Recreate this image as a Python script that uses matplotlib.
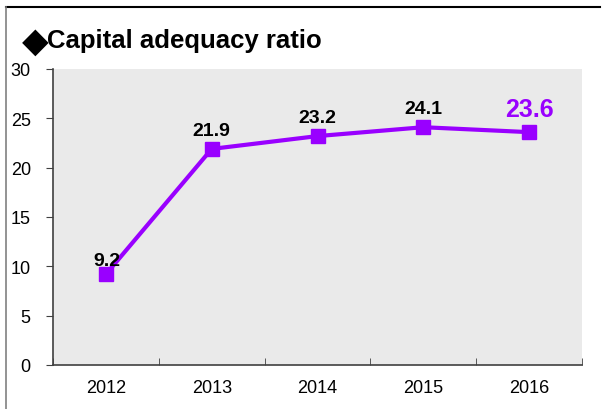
import matplotlib
matplotlib.use("Agg")
import matplotlib.pyplot as plt
from matplotlib.lines import Line2D
import numpy as np

years = ["2012", "2013", "2014", "2015", "2016"]
ratio = [9.2, 21.9, 23.2, 24.1, 23.6]
yticks = [0, 5, 10, 15, 20, 25, 30]

W, H = 606, 410
fig = plt.figure(figsize=(W / 100, H / 100), dpi=100)
fig.patch.set_facecolor("white")

ax = fig.add_axes([53 / W, 1 - 366 / H, (582 - 53) / W, (366 - 70) / H])
ax.set_facecolor("#EAEAEA")

purple = "#9900FF"
x = np.arange(len(years))
ax.plot(x, ratio, color=purple, lw=3, marker="s", markersize=10, zorder=3)

offsets = [(1, 4), (0, 7), (0, 7), (0, 7), (0, 8)]
for i, v in enumerate(ratio):
    last = i == len(ratio) - 1
    ax.annotate(f"{v:.1f}", (x[i], v), xytext=offsets[i],
                textcoords="offset points", ha="center", va="bottom",
                fontsize=18 if last else 14, fontweight="bold",
                color=purple if last else "black",
                family="Liberation Sans", zorder=4)

ax.set_xlim(-0.5, len(years) - 0.5)
ax.set_ylim(0, 30)
ax.set_yticks(yticks)
ax.set_yticklabels([str(t) for t in yticks], fontsize=13, family="Liberation Sans")
ax.set_xticks(x)
ax.set_xticklabels(years, fontsize=13, family="Liberation Sans")
ax.set_xticks(np.arange(-0.5, len(years)), minor=True)
ax.tick_params(axis="x", which="major", length=0, pad=10)
ax.tick_params(axis="x", which="minor", direction="in", length=5, color="#404040")
ax.tick_params(axis="y", direction="out", length=5, color="#404040", pad=11)
for s in ["top", "right"]:
    ax.spines[s].set_visible(False)
for s in ["left", "bottom"]:
    ax.spines[s].set_color("#404040")
    ax.spines[s].set_linewidth(1.2)

fig.text(35.5 / W, 1 - 42 / H, "◆", fontsize=25, family="DejaVu Sans",
         va="center", ha="center")
fig.text(47 / W, 1 - 41 / H, "Capital adequacy ratio", fontsize=18.5, fontweight="bold",
         family="Liberation Sans", va="center", ha="left")

fig.add_artist(Line2D([6 / W, 600 / W], [1 - 8 / H, 1 - 8 / H], color="black", lw=1.5))
fig.add_artist(Line2D([6 / W, 6 / W], [1 - 8 / H, 0], color="#808080", lw=1.2))

fig.savefig("out.png", dpi=100)
